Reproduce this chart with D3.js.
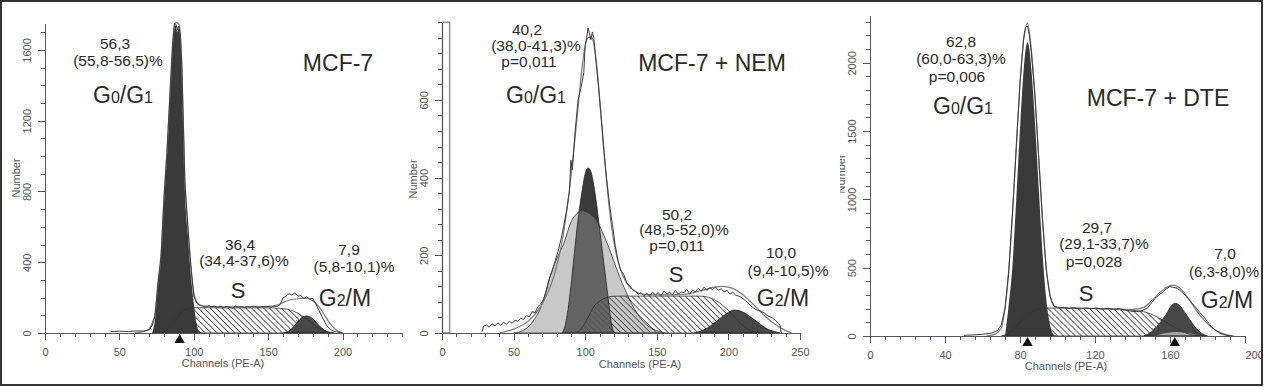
<!DOCTYPE html>
<html>
<head>
<meta charset="utf-8">
<title>MCF-7 cell cycle histograms</title>
<script src="https://d3js.org/d3.v7.min.js"></script>
<style>
    body { margin: 0; background: #fff; }
    svg { display: block; font-family: "Liberation Sans", Arial, sans-serif; }
    .axis path, .axis line { stroke: #555; shape-rendering: crispEdges; }
    .axis text { fill: #555; font-size: 11px; font-family: "Liberation Sans", Arial, sans-serif; }
    .note { fill: #2a2a2a; }
</style>
</head>
<body>
<svg id="chart" width="1264" height="387"></svg>
<script>
    // ---- panel 1: MCF-7 ----
    var p1RawCh = [44,50,56,62,66,70,72,74,76,78,80,82,84,86,87,88,89,90,91,92,93,94,96,98,100,102,104,106,108,110,
        112,114,116,118,120,122,124,126,128,130,132,134,136,138,140,142,144,146,148,150,152,154,156,158,160,162,164,166,168,170,
        172,174,176,178,180,182,184,186,188,190,192,196,200];
    var p1Raw = [8,10,9,12,11,18,40,100,280,430,760,1020,1340,1650,1750,1745,1715,1735,1690,1500,1180,860,600,380,210,168,158,152,146,155,
        148,152,144,150,143,150,146,140,152,145,150,143,150,146,152,148,145,150,147,150,146,152,150,160,198,208,222,215,226,208,
        212,196,204,192,196,165,130,95,62,35,18,6,0];
    var p1FitCh = [60,66,70,72,74,76,78,80,82,84,86,88,90,92,94,96,98,100,102,104,110,120,130,140,150,156,160,164,168,172,176,180,184,188,192,196,200];
    var p1Fit = [0,8,22,55,110,290,440,770,1030,1350,1660,1755,1745,1510,870,610,390,230,175,158,150,148,148,148,150,158,172,185,192,195,195,182,150,100,50,15,0];
    var p1G1Ch = [72,74,76,78,80,82,84,86,87,88,89,90,91,92,93,94,96,98,100,102,104,106];
    var p1G1 = [0,80,280,430,740,1000,1330,1640,1740,1735,1700,1730,1670,1480,1150,830,560,330,170,50,8,0];
    var p1SCh = [76,80,84,88,92,96,100,110,120,130,140,150,160,165,170,175,180,185,190,194];
    var p1S = [0,8,35,80,118,138,143,143,142,142,142,142,138,130,112,85,52,24,6,0];
    var p1G2Ch = [160,164,166,168,170,172,174,176,178,180,182,184,186,188,190,194];
    var p1G2 = [0,12,25,45,65,82,93,96,92,80,62,44,28,15,7,0];
    var p1Markers = [90.5];

    // ---- panel 2: MCF-7 + NEM ----
    var p2RawCh = [28,29,31,33,35,37,39,41,43,45,47,49,51,53,55,57,59,61,63,65,67,69,71,73,75,77,79,81,83,85,87,89,
        90,91,93,95,97,99,100,101,102,103,104,105,106,107,
        109,111,113,115,117,119,121,123,125,127,129,131,133,135,137,139,141,143,145,147,149,151,153,155,157,159,161,163,165,167,
        169,171,173,175,177,179,181,183,185,187,189,191,193,195,197,199,201,203,205,207,209,211,213,215,217,219,221,223,225,227,
        229,231,233,235,236,237];
    var p2Raw = [3,18,20,15,24,18,26,20,28,22,30,25,33,30,38,35,45,42,55,52,68,75,88,110,140,160,185,210,240,275,315,365,
        445,420,520,600,630,670,740,760,785,770,755,775,760,720,
        645,560,470,395,330,280,225,185,160,150,130,122,112,108,100,104,96,102,95,105,98,104,96,108,100,105,98,110,100,106,
        104,112,100,110,106,115,108,118,110,116,112,118,110,114,106,110,100,105,98,95,92,86,80,72,66,60,58,55,52,45,
        42,38,32,25,20,0];
    var p2FitCh = [40,50,60,70,80,85,90,95,98,100,102,104,106,108,110,112,114,116,118,120,124,128,132,136,140,150,160,170,180,190,196,202,208,214,220,226,232,238,244];
    var p2Fit = [0,10,30,75,170,260,400,580,690,740,760,762,745,690,610,520,430,350,285,235,170,135,115,105,100,98,98,100,108,118,120,116,104,86,64,42,24,10,0];
    var p2LightCh = [50,55,60,65,70,75,80,85,90,95,98,100,104,108,112,116,120,124,128,132,136,140,145,150,156];
    var p2Light = [0,4,15,38,75,140,190,230,285,310,315,313,305,290,260,225,185,145,110,78,52,32,15,6,0];
    var p2DarkCh = [84,86,88,90,92,94,96,98,100,102,104,106,108,110,112,114,116,118,120];
    var p2Dark = [0,20,60,120,190,260,320,370,410,425,415,380,330,270,210,150,90,30,0];
    var p2SCh = [94,98,102,106,110,114,118,125,140,160,180,186,190,194,198,202,206,210,214,218,222];
    var p2S = [0,15,40,68,82,90,94,95,95,95,95,92,86,77,65,50,34,20,9,2,0];
    var p2G2Ch = [176,180,185,190,195,200,204,208,212,216,220,224,228,232,236];
    var p2G2 = [0,4,12,25,40,53,59,57,50,40,29,18,9,4,0];
    var p2Gate = [0, 5];

    // ---- panel 3: MCF-7 + DTE ----
    var p3RawCh = [50,55,60,65,68,70,72,74,76,78,80,82,83,84,85,86,88,90,92,94,96,98,100,103,106,109,112,115,118,121,
        124,127,130,133,136,139,142,145,148,150,152,154,156,158,160,162,164,166,168,170,172,174,176,178,180,182,184,186,188,190,193];
    var p3Raw = [5,8,12,22,40,80,200,480,900,1380,1850,2180,2260,2270,2200,2080,1750,1300,850,480,290,220,206,210,200,207,198,205,200,204,
        197,203,195,200,190,182,178,185,205,240,275,300,320,345,362,355,350,325,300,270,235,205,170,140,105,70,45,25,12,5,0];
    var p3FitCh = [62,66,70,72,74,76,78,80,82,84,86,88,90,92,94,96,98,100,110,120,130,140,146,150,154,158,162,166,170,174,178,182,186,190,194];
    var p3Fit = [0,10,60,200,470,900,1380,1850,2180,2290,2100,1760,1300,860,500,300,225,210,205,202,198,195,210,255,310,355,372,340,270,190,120,65,30,10,0];
    var p3G1Ch = [72,74,76,78,80,82,83,84,85,86,88,90,92,94,96,98,100];
    var p3G1 = [0,230,520,1000,1520,1960,2100,2150,2100,1960,1560,1080,610,270,80,10,0];
    var p3SCh = [70,74,78,82,86,90,94,100,110,120,130,140,146,150,154,158,162,166,170,174,178];
    var p3S = [0,20,70,130,175,198,205,205,203,200,195,188,178,160,132,100,68,38,15,3,0];
    var p3G2Ch = [146,150,154,158,161,163,165,168,171,174,177,180];
    var p3G2 = [0,30,85,160,225,240,225,170,110,55,18,0];
    var p3AggCh = [150,154,158,162,166,170,174,178];
    var p3Agg = [0,10,22,30,28,20,8,0];
    var p3Markers = [84, 162.5];

    var svg = d3.select("#chart");
    var defs = svg.append("defs");

    // diagonal hatch for S phase
    defs.append("pattern")
        .attr("id", "hatch")
        .attr("patternUnits", "userSpaceOnUse")
        .attr("width", 4.2)
        .attr("height", 4.2)
        .attr("patternTransform", "rotate(-45)")
        .append("line")
        .attr("x1", 2.1).attr("y1", 0).attr("x2", 2.1).attr("y2", 4.2)
        .attr("stroke", "#555")
        .attr("stroke-width", 1);

    defs.append("clipPath").attr("id", "clip3")
        .append("rect").attr("x", 840).attr("y", 0).attr("width", 422).attr("height", 387);

    var panels = [{
        xRange: [45, 402], yRange: [333, 23], xDom: [0, 240], yDom: [0, 1752],
        xMinor: 10, xLabels: [0, 50, 100, 150, 200], yMinor: 100, yLabels: [0, 400, 800, 1200, 1600],
        numberX: 20, numberY: 178, chanX: 223, chanY: 367, markers: p1Markers,
        layers: [
            { ch: p1SCh, v: p1S, fill: "#fff" },
            { ch: p1SCh, v: p1S, fill: "url(#hatch)" },
            { ch: p1G1Ch, v: p1G1, fill: "#3a3a3a" },
            { ch: p1G2Ch, v: p1G2, fill: "#474747" },
            { ch: p1SCh, v: p1S, stroke: "#333" },
            { ch: p1G2Ch, v: p1G2, stroke: "#222" }
        ],
        fit: [p1FitCh, p1Fit], raw: [p1RawCh, p1Raw],
        notes: [
            { t: ["56,3"], x: 115, y: 49 },
            { t: ["(55,8-56,5)%"], x: 118, y: 66 },
            { t: ["G", "0", "/G", "1"], x: 123, y: 103, big: true },
            { t: ["MCF-7"], x: 338, y: 71, size: 23 },
            { t: ["36,4"], x: 240, y: 250 },
            { t: ["(34,4-37,6)%"], x: 244, y: 266 },
            { t: ["S"], x: 238, y: 298, size: 22 },
            { t: ["7,9"], x: 349, y: 255 },
            { t: ["(5,8-10,1)%"], x: 354, y: 272 },
            { t: ["G", "2", "/M"], x: 345, y: 306, big: true }
        ]
    }, {
        xRange: [442, 800], yRange: [333, 22.2], xDom: [0, 250], yDom: [0, 800],
        xMinor: 10, xLabels: [0, 50, 100, 150, 200, 250], yMinor: 40, yLabels: [0, 200, 400, 600],
        numberX: 417, numberY: 179, chanX: 640, chanY: 368, markers: [], gate: p2Gate,
        layers: [
            { ch: p2DarkCh, v: p2Dark, fill: "#3a3a3a" },
            { ch: p2LightCh, v: p2Light, fill: "#8f8f8f", opacity: 0.49 },
            { ch: p2SCh, v: p2S, fill: "url(#hatch)" },
            { ch: p2G2Ch, v: p2G2, fill: "#474747" },
            { ch: p2LightCh, v: p2Light, stroke: "#333" },
            { ch: p2DarkCh, v: p2Dark, stroke: "#222" },
            { ch: p2SCh, v: p2S, stroke: "#333" },
            { ch: p2G2Ch, v: p2G2, stroke: "#222" }
        ],
        fit: [p2FitCh, p2Fit], raw: [p2RawCh, p2Raw],
        notes: [
            { t: ["40,2"], x: 527, y: 35 },
            { t: ["(38,0-41,3)%"], x: 536, y: 51 },
            { t: ["p=0,011"], x: 529, y: 67 },
            { t: ["G", "0", "/G", "1"], x: 536, y: 103, big: true },
            { t: ["MCF-7 + NEM"], x: 712, y: 71, size: 23 },
            { t: ["50,2"], x: 677, y: 220 },
            { t: ["(48,5-52,0)%"], x: 684, y: 235 },
            { t: ["p=0,011"], x: 677, y: 251 },
            { t: ["S"], x: 676, y: 282, size: 22 },
            { t: ["10,0"], x: 781, y: 258 },
            { t: ["(9,4-10,5)%"], x: 788, y: 276 },
            { t: ["G", "2", "/M"], x: 783, y: 306, big: true }
        ]
    }, {
        xRange: [870, 1245], yRange: [336, 15], xDom: [0, 200], yDom: [0, 2350],
        xMinor: 8, xLabels: [0, 40, 80, 120, 160, 200], yMinor: 100, yLabels: [0, 500, 1000, 1500, 2000],
        numberX: 845, numberY: 174, chanX: 1066, chanY: 370, markers: p3Markers, clip: "clip3", lastLabelStart: true,
        layers: [
            { ch: p3SCh, v: p3S, fill: "#fff" },
            { ch: p3SCh, v: p3S, fill: "url(#hatch)" },
            { ch: p3G1Ch, v: p3G1, fill: "#3a3a3a" },
            { ch: p3G2Ch, v: p3G2, fill: "#474747" },
            { ch: p3AggCh, v: p3Agg, fill: "#a5a5a5" },
            { ch: p3SCh, v: p3S, stroke: "#333" },
            { ch: p3G2Ch, v: p3G2, stroke: "#222" }
        ],
        fit: [p3FitCh, p3Fit], raw: [p3RawCh, p3Raw],
        notes: [
            { t: ["62,8"], x: 961, y: 47 },
            { t: ["(60,0-63,3)%"], x: 961, y: 64 },
            { t: ["p=0,006"], x: 957, y: 82 },
            { t: ["G", "0", "/G", "1"], x: 963, y: 114, big: true },
            { t: ["MCF-7 + DTE"], x: 1158, y: 106, size: 23 },
            { t: ["29,7"], x: 1097, y: 233 },
            { t: ["(29,1-33,7)%"], x: 1104, y: 249 },
            { t: ["p=0,028"], x: 1094, y: 267 },
            { t: ["S"], x: 1086, y: 301, size: 22 },
            { t: ["7,0"], x: 1225, y: 259 },
            { t: ["(6,3-8,0)%"], x: 1224, y: 277, size: 15 },
            { t: ["G", "2", "/M"], x: 1227, y: 308, big: true }
        ]
    }];

    panels.forEach(function(p) {
        var g = svg.append("g");
        if (p.clip) g.attr("clip-path", "url(#" + p.clip + ")");

        var x = d3.scaleLinear().domain(p.xDom).range(p.xRange);
        var y = d3.scaleLinear().domain(p.yDom).range(p.yRange);

        function areaPath(ch, v) {
            return d3.area()
                .x(function(d, i) { return x(ch[i]); })
                .y0(y(0))
                .y1(function(d) { return y(d); })
                .curve(d3.curveMonotoneX)(v);
        }

        function linePath(ch, v, curve) {
            return d3.line()
                .x(function(d, i) { return x(ch[i]); })
                .y(function(d) { return y(d); })
                .curve(curve)(v);
        }

        // gate marker near the y axis
        if (p.gate) {
            g.append("rect")
                .attr("x", x(p.gate[0]) + 0.5)
                .attr("y", y(p.yDom[1]))
                .attr("width", x(p.gate[1]) - x(p.gate[0]))
                .attr("height", y(0) - y(p.yDom[1]))
                .attr("fill", "none")
                .attr("stroke", "#8a8a8a")
                .attr("stroke-width", 1.4);
        }

        // model components
        p.layers.forEach(function(l) {
            g.append("path")
                .attr("d", areaPath(l.ch, l.v))
                .attr("fill", l.fill || "none")
                .attr("fill-opacity", l.opacity || 1)
                .attr("stroke", l.stroke || "none")
                .attr("stroke-width", 0.8);
        });

        // fitted sum and raw histogram
        g.append("path")
            .attr("d", linePath(p.fit[0], p.fit[1], d3.curveMonotoneX))
            .attr("fill", "none").attr("stroke", "#7a7a7a").attr("stroke-width", 1.2);
        g.append("path")
            .attr("d", linePath(p.raw[0], p.raw[1], d3.curveLinear))
            .attr("fill", "none").attr("stroke", "#3c3c3c").attr("stroke-width", 1);

        // axes
        var xMinor = d3.range(p.xDom[0], p.xDom[1] + 0.01, p.xMinor);
        var yMinor = d3.range(p.yDom[0], p.yDom[1] + 0.01, p.yMinor);

        var xa = g.append("g").attr("class", "axis").attr("transform", "translate(0," + p.yRange[0] + ")");
        xa.call(d3.axisBottom(x).tickValues(xMinor).tickSize(4).tickSizeOuter(0).tickFormat(""));
        xa.append("g").call(d3.axisBottom(x).tickValues(p.xLabels).tickSize(7).tickSizeOuter(0).tickPadding(8).tickFormat(d3.format("d")));
        if (p.lastLabelStart) {
            xa.selectAll("g.tick").filter(function(d) { return d === p.xDom[1]; })
                .select("text").attr("text-anchor", "start");
        }

        var ya = g.append("g").attr("class", "axis").attr("transform", "translate(" + p.xRange[0] + ",0)");
        ya.call(d3.axisLeft(y).tickValues(yMinor).tickSize(4).tickSizeOuter(0).tickFormat(""));
        ya.append("g").call(d3.axisLeft(y).tickValues(p.yLabels).tickSize(7).tickSizeOuter(0).tickFormat(d3.format("d")))
            .selectAll("text")
            .attr("transform", "rotate(-90)")
            .attr("x", 0).attr("y", -14).attr("dy", 0)
            .attr("text-anchor", "middle");

        g.append("text")
            .attr("transform", "translate(" + p.numberX + "," + p.numberY + ") rotate(-90)")
            .attr("text-anchor", "middle")
            .attr("fill", "#555").attr("font-size", 11)
            .text("Number");

        g.append("text")
            .attr("x", p.chanX).attr("y", p.chanY)
            .attr("text-anchor", "middle")
            .attr("fill", "#555").attr("font-size", 11)
            .text("Channels (PE-A)");

        // peak position markers
        g.selectAll(".marker").data(p.markers).join("path")
            .attr("d", d3.symbol(d3.symbolTriangle, 46))
            .attr("transform", function(d) { return "translate(" + x(d) + "," + (p.yRange[0] + 7) + ")"; })
            .attr("fill", "#111");

        // annotations
        p.notes.forEach(function(n) {
            var t = g.append("text").attr("class", "note")
                .attr("x", n.x).attr("y", n.y)
                .attr("text-anchor", "middle");
            if (n.big) {
                n.t.forEach(function(s, i) {
                    t.append("tspan").attr("font-size", i % 2 ? 16 : 23).text(s);
                });
            } else {
                t.attr("font-size", n.size || 15.5).text(n.t[0]);
            }
        });
    });

    // outer frame
    svg.append("rect")
        .attr("x", 1).attr("y", 1).attr("width", 1261).attr("height", 384)
        .attr("fill", "none").attr("stroke", "#333").attr("stroke-width", 2);
</script>
</body>
</html>
